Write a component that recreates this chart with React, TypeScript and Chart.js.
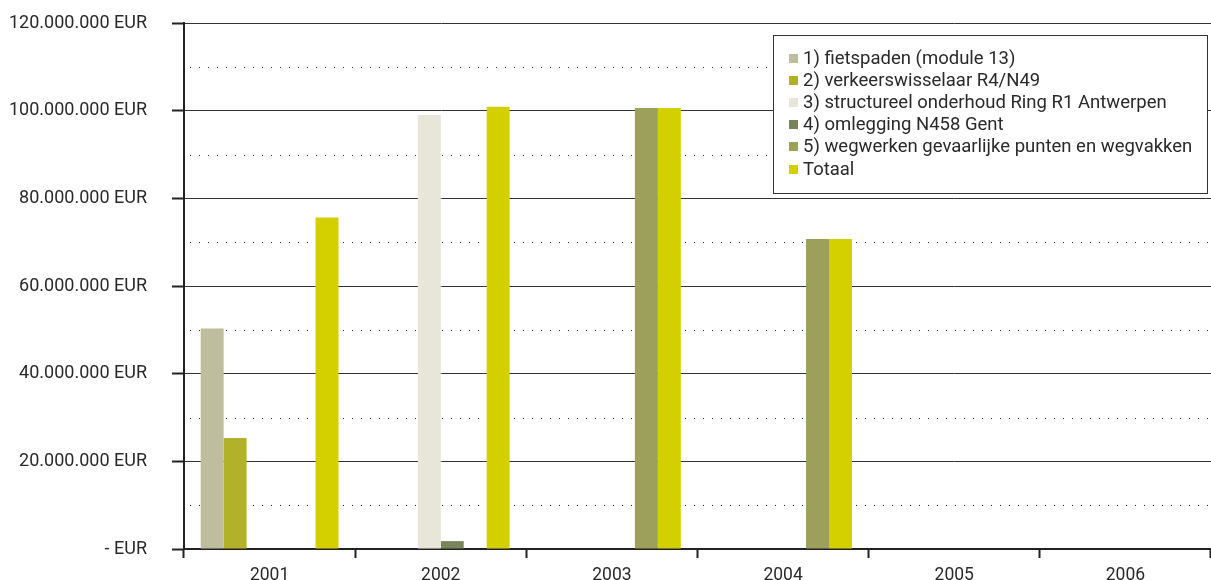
import React, { useEffect, useRef } from 'react';
import { Chart, registerables } from 'chart.js';

Chart.register(...registerables);

const categories = ['2001', '2002', '2003', '2004', '2005', '2006'];
const seriesNames = [
  '1) fietspaden (module 13)',
  '2) verkeerswisselaar R4/N49',
  '3) structureel onderhoud Ring R1 Antwerpen',
  '4) omlegging N458 Gent',
  '5) wegwerken gevaarlijke punten en wegvakken',
  'Totaal',
];
const fietspaden = [50.3e6, 0, 0, 0, 0, 0];
const verkeerswisselaar = [25.3e6, 0, 0, 0, 0, 0];
const ringR1 = [0, 99.0e6, 0, 0, 0, 0];
const omleggingN458 = [0, 1.8e6, 0, 0, 0, 0];
const wegwerken = [0, 0, 100.6e6, 70.7e6, 0, 0];
const totaal = [75.6e6, 100.9e6, 100.6e6, 70.7e6, 0, 0];
const seriesColors = ['#bebe9e', '#b3b02a', '#e8e6d9', '#7a845c', '#9ca05a', '#d4d000'];

const yMax = 120e6;
const yStep = 10e6;
const labelStep = 20e6;
const minorGridValues = [10e6, 30e6, 50e6, 70e6, 90e6, 110e6];

const fmtEur = (v: number) => {
  if (v === 0) return '- EUR';
  return String(Math.round(v)).replace(/\B(?=(\d{3})+(?!\d))/g, '.') + ' EUR';
};

const FONT = 'Roboto';
const TEXT = '#2a2a2a';

const dottedPlugin = {
  id: 'dottedGrid',
  beforeDatasetsDraw(chart: any) {
    const { ctx, chartArea, scales } = chart;
    ctx.save();
    ctx.strokeStyle = '#222';
    ctx.lineWidth = 1;
    ctx.setLineDash([1, 8]);
    for (const v of minorGridValues) {
      const y = Math.round(scales.y.getPixelForValue(v)) + 0.5;
      ctx.beginPath();
      ctx.moveTo(chartArea.left + 6, y);
      ctx.lineTo(chartArea.right, y);
      ctx.stroke();
    }
    ctx.restore();
  },
};

const legendPlugin = {
  id: 'boxLegend',
  afterDraw(chart: any) {
    const { ctx } = chart;
    const x0 = 773.5, y0 = 35.5, w = 434, h = 158;
    ctx.save();
    ctx.fillStyle = '#ffffff';
    ctx.fillRect(x0, y0, w, h);
    ctx.strokeStyle = '#333';
    ctx.lineWidth = 1;
    ctx.strokeRect(x0, y0, w, h);
    ctx.font = `18.5px ${FONT}`;
    ctx.textBaseline = 'middle';
    chart.data.datasets.forEach((ds: any, i: number) => {
      const cy = 58 + i * 22.2;
      ctx.fillStyle = ds.backgroundColor;
      ctx.fillRect(789, Math.round(cy - 4.5), 9, 9);
      ctx.fillStyle = TEXT;
      ctx.fillText(ds.label, 803, cy + 1);
    });
    ctx.restore();
  },
};

export default function App() {
  const ref = useRef<HTMLCanvasElement | null>(null);

  useEffect(() => {
    if (!ref.current) return;
    const seriesValues = [fietspaden, verkeerswisselaar, ringR1, omleggingN458, wegwerken, totaal];
    const chart = new Chart(ref.current, {
      type: 'bar',
      data: {
        labels: categories,
        datasets: seriesValues.map((d, i) => ({
          label: seriesNames[i],
          data: d,
          backgroundColor: seriesColors[i],
          borderWidth: 0,
          categoryPercentage: 0.805,
          barPercentage: 1,
        })),
      },
      options: {
        responsive: false,
        animation: false,
        layout: { padding: { top: 23, right: 0, left: 0, bottom: 0 } },
        plugins: { legend: { display: false }, tooltip: { enabled: false } },
        scales: {
          x: {
            grid: {
              offset: true,
              drawOnChartArea: false,
              tickLength: 9,
              tickWidth: 2,
              tickColor: '#222',
            },
            border: { color: '#222', width: 2 },
            ticks: { font: { family: FONT, size: 17.5 }, color: TEXT, padding: 7 },
            afterFit: (s: any) => {
              s.height = 31;
              s.paddingLeft = 0;
              s.paddingRight = 0;
            },
          },
          y: {
            min: 0,
            max: yMax,
            grid: {
              color: (c: any) => (c.tick && c.tick.value % labelStep === 0 ? '#333' : 'rgba(0,0,0,0)'),
              tickColor: (c: any) => (c.tick && c.tick.value % labelStep === 0 ? '#222' : 'rgba(0,0,0,0)'),
              tickLength: 12,
              tickWidth: 2,
              lineWidth: 1,
            },
            border: { color: '#222', width: 2 },
            ticks: {
              stepSize: yStep,
              autoSkip: false,
              font: { family: FONT, size: 18 },
              color: TEXT,
              padding: 25,
              callback: (v: any) => (Number(v) % labelStep === 0 ? fmtEur(Number(v)) : ''),
            },
            afterFit: (s: any) => {
              s.width = 184;
              s.paddingTop = 0;
              s.paddingBottom = 0;
            },
          },
        },
      },
      plugins: [dottedPlugin, legendPlugin],
    });
    return () => chart.destroy();
  }, []);

  return (
    <div style={{ position: 'absolute', left: 0, top: 0, width: 1211, height: 580, background: '#fff' }}>
      <canvas ref={ref} width={1211} height={580} />
    </div>
  );
}
